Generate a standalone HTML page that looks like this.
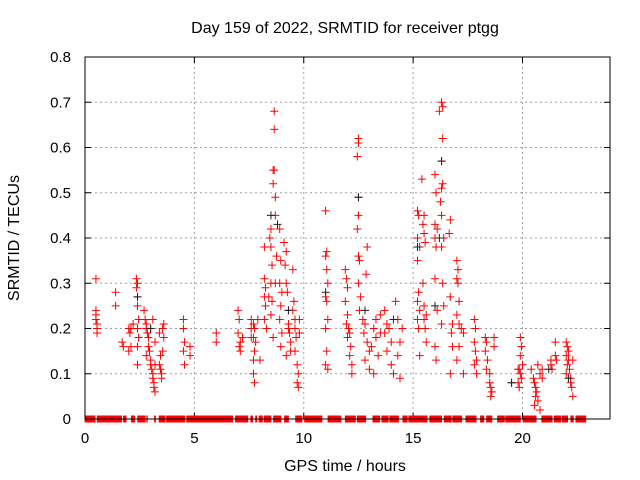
<!DOCTYPE html>
<html><head><meta charset="utf-8"><style>
body{margin:0;background:#fff}
svg{display:block;font-family:"Liberation Sans",sans-serif}
</style></head><body>
<svg id="chart" width="640" height="480" viewBox="0 0 640 480" xmlns="http://www.w3.org/2000/svg">
<rect width="640" height="480" fill="#fff"/>
<text x="345" y="33" font-size="16" text-anchor="middle">Day 159 of 2022, SRMTID for receiver ptgg</text>
<text x="345" y="471" font-size="16" text-anchor="middle">GPS time / hours</text>
<text transform="translate(19,238) rotate(-90)" font-size="16" text-anchor="middle">SRMTID / TECUs</text>
<g id="grid"></g>
<g id="ticks"></g>
<g id="zeros"></g>
<g id="red"></g>
<g id="black"></g>
<rect x="85" y="57" width="525" height="362" fill="none" stroke="#000" stroke-width="1"/>
</svg>
<script>
const xTicks=[0,5,10,15,20];
const yTicks=[0,0.1,0.2,0.3,0.4,0.5,0.6,0.7,0.8];
const yTickLabels=["0","0.1","0.2","0.3","0.4","0.5","0.6","0.7","0.8"];
const redPts=[
[0.5,0.31],[0.5,0.24],[0.5,0.23],[0.5,0.22],[0.55,0.21],[0.55,0.20],[0.55,0.19],
[1.4,0.28],[1.4,0.25],[1.7,0.17],[1.75,0.16],[2.0,0.20],[2.05,0.19],[2.1,0.16],[2.0,0.15],[2.2,0.21],[2.1,0.2],
[2.35,0.31],[2.4,0.30],[2.35,0.29],[2.4,0.27],[2.4,0.25],[2.45,0.22],[2.4,0.20],[2.45,0.18],[2.4,0.16],[2.4,0.12],
[2.7,0.24],[2.75,0.22],[2.8,0.21],[2.8,0.2],[2.85,0.19],[2.9,0.18],[2.9,0.16],[2.95,0.15],[3.0,0.13],[3.0,0.12],[3.05,0.11],[3.1,0.1],[3.1,0.09],[3.15,0.08],[3.15,0.07],[3.2,0.06],[3.2,0.12],[3.0,0.2],[3.1,0.22],[2.8,0.14],[3.2,0.17],
[3.4,0.19],[3.45,0.14],[3.4,0.12],[3.5,0.09],[3.5,0.10],[3.45,0.11],[3.55,0.20],[3.6,0.18],[3.6,0.21],[3.55,0.15],
[4.5,0.22],[4.5,0.20],[4.55,0.17],[4.5,0.15],[4.55,0.12],[4.8,0.16],[4.8,0.14],[6.0,0.19],[6.0,0.17],
[7.0,0.24],[7.05,0.22],[7.0,0.19],[7.1,0.17],[7.05,0.16],[7.1,0.15],[7.2,0.18],[7.6,0.20],[7.6,0.18],
[7.6,0.22],[7.7,0.21],[7.75,0.2],[7.7,0.18],[7.8,0.17],[7.75,0.15],[7.7,0.13],[7.7,0.10],[7.75,0.08],[7.9,0.22],[8.0,0.13],
[8.2,0.38],[8.2,0.31],[8.25,0.29],[8.2,0.27],[8.25,0.25],[8.2,0.22],[8.3,0.20],[8.4,0.27],
[8.5,0.42],[8.45,0.40],[8.5,0.38],[8.55,0.34],[8.5,0.30],[8.55,0.26],[8.5,0.23],[8.6,0.18],
[8.65,0.68],[8.65,0.64],[8.6,0.55],[8.65,0.55],[8.6,0.52],[8.7,0.49],[8.7,0.45],[8.75,0.36],[8.7,0.30],
[8.9,0.42],[8.95,0.35],[8.9,0.30],[8.95,0.25],[8.9,0.22],[9.0,0.19],[8.95,0.16],[9.0,0.28],
[9.1,0.39],[9.2,0.37],[9.15,0.34],[9.2,0.30],[9.25,0.28],[9.3,0.24],[9.3,0.21],[9.35,0.19],[9.4,0.17],[9.4,0.15],[9.2,0.14],[9.3,0.20],
[9.5,0.33],[9.55,0.26],[9.5,0.24],[9.6,0.2],[9.65,0.18],[9.6,0.15],[9.7,0.12],[9.75,0.10],[9.7,0.08],[9.75,0.07],[9.8,0.22],[9.8,0.19],[9.6,0.22],
[11.0,0.46],[11.05,0.37],[11.0,0.36],[11.05,0.33],[11.1,0.30],[11.0,0.27],[11.05,0.26],[11.1,0.22],[11.0,0.2],[11.05,0.15],[11.0,0.12],[11.1,0.11],
[11.9,0.33],[11.95,0.31],[12.0,0.29],[11.9,0.26],[12.0,0.23],[11.95,0.21],[12.05,0.2],[12.1,0.19],[12.0,0.18],[12.15,0.16],[12.1,0.14],[12.2,0.12],[12.2,0.1],
[12.5,0.62],[12.5,0.61],[12.45,0.58],[12.5,0.49],[12.5,0.45],[12.45,0.42],[12.5,0.36],[12.55,0.35],[12.5,0.30],[12.6,0.27],[12.55,0.24],
[12.9,0.38],[12.85,0.32],[12.7,0.22],[12.8,0.21],[12.75,0.19],[12.9,0.17],[13.0,0.15],[12.8,0.13],[13.0,0.11],[13.2,0.20],[13.3,0.18],[13.1,0.16],[13.4,0.14],[13.5,0.23],[13.3,0.22],[13.5,0.19],[13.2,0.1],
[13.7,0.24],[13.8,0.21],[13.9,0.20],[13.7,0.19],[14.0,0.17],[13.8,0.15],[14.0,0.12],[14.1,0.10],[14.2,0.26],[14.3,0.22],[14.4,0.17],[14.3,0.14],[14.4,0.09],[14.5,0.2],
[15.2,0.46],[15.25,0.45],[15.2,0.40],[15.3,0.38],[15.2,0.35],[15.25,0.28],[15.2,0.26],[15.3,0.24],[15.2,0.22],[15.25,0.20],[15.3,0.14],
[15.4,0.53],[15.5,0.45],[15.45,0.43],[15.5,0.41],[15.55,0.39],[15.45,0.30],[15.5,0.25],[15.6,0.23],[15.55,0.2],[15.6,0.17],[15.5,0.22],
[16.0,0.54],[16.05,0.50],[16.0,0.43],[16.1,0.42],[16.0,0.4],[16.05,0.38],[16.0,0.31],[16.1,0.24],[16.0,0.16],[16.05,0.13],
[16.3,0.70],[16.35,0.69],[16.2,0.68],[16.35,0.62],[16.3,0.57],[16.35,0.52],[16.3,0.51],[16.25,0.48],[16.3,0.45],[16.4,0.40],[16.3,0.38],[16.35,0.30],[16.4,0.25],[16.3,0.21],
[16.7,0.44],[16.65,0.41],[16.7,0.27],[16.8,0.21],[16.75,0.19],[16.8,0.16],[16.7,0.10],
[17.0,0.35],[17.05,0.33],[17.0,0.31],[17.05,0.30],[17.1,0.26],[17.0,0.23],[17.1,0.21],[17.2,0.2],[17.1,0.16],[17.0,0.13],[17.3,0.10],[17.3,0.19],
[17.8,0.22],[17.85,0.2],[17.8,0.17],[17.85,0.15],[17.9,0.13],[17.8,0.12],[17.9,0.10],
[18.3,0.18],[18.35,0.17],[18.3,0.15],[18.4,0.13],[18.35,0.11],[18.5,0.10],[18.5,0.08],[18.55,0.07],[18.6,0.06],[18.55,0.05],[18.7,0.18],[18.7,0.16],
[19.5,0.08],[19.8,0.11],[19.9,0.18],[19.95,0.16],[19.9,0.14],[20.0,0.12],[19.85,0.11],[19.9,0.10],[19.95,0.09],[19.8,0.08],[19.85,0.07],
[20.4,0.11],[20.5,0.09],[20.55,0.08],[20.6,0.07],[20.65,0.06],[20.6,0.05],[20.7,0.04],[20.55,0.03],[20.8,0.02],[20.7,0.12],[20.8,0.10],[20.9,0.09],[20.9,0.11],
[21.3,0.13],[21.3,0.12],[21.35,0.11],[21.5,0.17],[21.5,0.14],[21.55,0.13],
[22.0,0.17],[22.05,0.16],[22.1,0.15],[22.0,0.14],[22.1,0.13],[22.05,0.12],[22.15,0.11],[22.0,0.10],[22.2,0.09],[22.2,0.08],[22.25,0.07],[22.3,0.05],[22.3,0.13]
];
const blackPts=[[2.4,0.27],[8.5,0.45],[8.8,0.43],[12.5,0.49],[15.2,0.38],[16.3,0.57],[16.2,0.40],[19.5,0.08],[21.2,0.11],[9.3,0.24],[11.0,0.28],[12.8,0.24],[16.0,0.25],[3.0,0.2],[14.1,0.22],[22.1,0.09]];
const zeroStarts=[-0.02,0.54,1.74,2.1,2.39,2.8,3.16,3.37,3.71,4.63,6.86,7.56,7.78,7.94,8.17,8.6,9.1,9.61,10.02,11.09,11.88,12.43,13.14,13.55,13.91,14.51,14.78,15.74,16.4,16.79,17.39,18.06,18.34,18.84,19.21,20.01,20.86,21.44,21.79,22.19,22.42];
const zeroEnds=[0.48,1.69,1.9,2.29,2.77,2.8,3.24,3.68,4.58,6.77,7.46,7.68,7.87,8.13,8.52,8.98,9.32,9.94,10.85,11.72,12.38,12.85,13.49,13.88,14.35,14.75,15.66,16.32,16.76,17.24,17.9,18.25,18.62,19.19,19.92,20.64,21.37,21.76,22.08,22.34,22.91];
const NS="http://www.w3.org/2000/svg";
const X=v=>85+v*525/24, Y=v=>419-v*362/0.8;
function mk(t,a,p){const e=document.createElementNS(NS,t);for(const k in a)e.setAttribute(k,a[k]);p.appendChild(e);return e;}
const grid=document.getElementById('grid'),ticks=document.getElementById('ticks');
xTicks.forEach(t=>{
 if(t>0){const l=mk('line',{x1:X(t),x2:X(t),y1:57,y2:419,stroke:'#a0a0a0','stroke-dasharray':'2,3'},grid);
 
 }
 mk('line',{x1:X(t),x2:X(t),y1:419,y2:413,stroke:'#000'},ticks);
 mk('line',{x1:X(t),x2:X(t),y1:57,y2:63,stroke:'#000'},ticks);
 const tx=mk('text',{x:X(t),y:443,'font-size':15,'text-anchor':'middle'},ticks);tx.textContent=t;
 
 
});
yTicks.forEach((t,i)=>{
 if(t>0&&t<0.8){const l=mk('line',{x1:85,x2:610,y1:Y(t),y2:Y(t),stroke:'#a0a0a0','stroke-dasharray':'2,3'},grid);
 
 }
 mk('line',{x1:85,x2:91,y1:Y(t),y2:Y(t),stroke:'#000'},ticks);
 mk('line',{x1:610,x2:604,y1:Y(t),y2:Y(t),stroke:'#000'},ticks);
 const tx=mk('text',{x:71,y:Y(t)+5,'font-size':15,'text-anchor':'end'},ticks);tx.textContent=yTickLabels[i];
 
 
});
function plus(g,x,y,c){const p=mk('path',{d:`M${X(x)-4},${Y(y)}h8M${X(x)},${Y(y)-4}v8`,stroke:c,'stroke-width':1,fill:'none'},g);return p;}
const zg=document.getElementById('zeros');
zeroStarts.forEach((s,i)=>{
 const r=mk('rect',{x:X(s),y:Y(0)-3.5,width:Math.max(1.5,X(zeroEnds[i])-X(s)),height:7,fill:'#f00'},zg);
 
 
});
const rg=document.getElementById('red');
redPts.forEach(p=>{const e=plus(rg,p[0],p[1],'#f00');
 
 });
const bg=document.getElementById('black');
blackPts.forEach(p=>{const e=plus(bg,p[0],p[1],'#222');
 
 });
</script>
</body></html>
